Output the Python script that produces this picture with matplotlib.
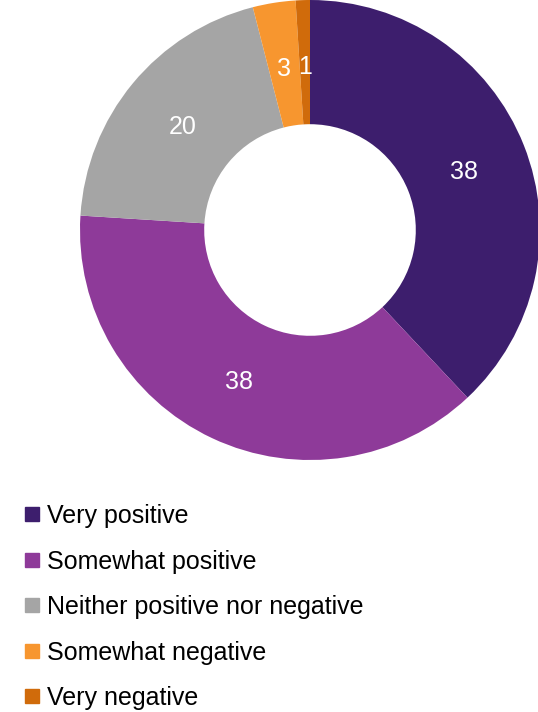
import matplotlib
matplotlib.use('Agg')
import matplotlib.pyplot as plt
from matplotlib.lines import Line2D

plt.rcParams['font.family'] = ['Liberation Sans', 'DejaVu Sans']

categories = ['Very positive', 'Somewhat positive', 'Neither positive nor negative',
              'Somewhat negative', 'Very negative']
values = [38, 38, 20, 3, 1]
colors = ['#3d1e6d', '#8e3a99', '#a5a5a5', '#f7962f', '#d06b0b']

fig = plt.figure(figsize=(5.38, 7.12), dpi=100)
ax = fig.add_axes([80 / 538, (712 - 460) / 712, 460 / 538, 460 / 712])

wedges, texts = ax.pie(values, labels=[str(v) for v in values], colors=colors,
                       startangle=90, counterclock=False, radius=1,
                       labeldistance=0.72, wedgeprops=dict(width=0.54, linewidth=0),
                       textprops=dict(color='white', fontsize=18))
for t in texts:
    t.set_ha('center')
    t.set_va('center_baseline')
ax.set_xlim(-1, 1)
ax.set_ylim(-1, 1)
ax.set_aspect('equal')
ax.axis('off')

handles = [Line2D([0], [0], marker='s', linestyle='', markersize=10,
                  markerfacecolor=c, markeredgecolor=c) for c in colors]
fig.legend(handles, categories, loc='upper left', bbox_to_anchor=(0.027, 0.306),
           frameon=False, fontsize=18, handlelength=0.6, handletextpad=0.28,
           labelspacing=0.86, borderaxespad=0)

fig.savefig('out.png', dpi=100, facecolor='white')
